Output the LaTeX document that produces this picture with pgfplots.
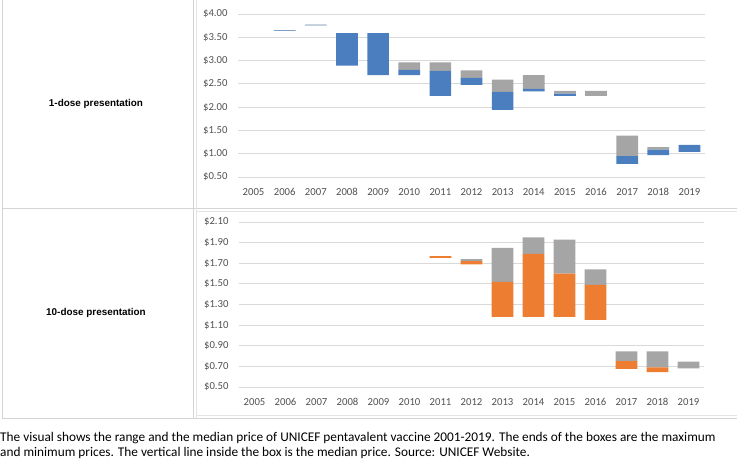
\documentclass[border=0pt]{standalone}
\usepackage{pgfplots}
\pgfplotsset{compat=1.18}
\usepackage{pgfplotstable}
\usepackage{fontspec}
\setmainfont{Carlito}
\newfontfamily\arialfont{Liberation Sans}
\definecolor{xblue}{HTML}{4A7EBE}
\definecolor{xorange}{HTML}{ED7D31}
\definecolor{xgray}{HTML}{A5A5A5}
\definecolor{gridc}{HTML}{D9D9D9}
\definecolor{tickc}{HTML}{505050}
\definecolor{tablec}{HTML}{D4D4D4}

% x index: 0 = 2005 ... 14 = 2019
\pgfplotstableread{
x min med max
1 3.635 3.648 3.656
2 3.755 3.766 3.773
3 2.89 3.59 3.59
4 2.69 3.59 3.59
5 2.69 2.80 2.96
6 2.24 2.78 2.96
7 2.48 2.63 2.79
8 1.94 2.33 2.59
9 2.34 2.39 2.69
10 2.24 2.29 2.35
11 2.24 2.24 2.35
12 0.78 0.95 1.39
13 0.97 1.09 1.14
14 1.04 1.19 1.19
}\onedose

\pgfplotstableread{
x min med max
6 1.752 1.768 1.768
7 1.69 1.72 1.74
8 1.18 1.52 1.85
9 1.18 1.79 1.95
10 1.18 1.60 1.93
11 1.15 1.49 1.64
12 0.675 0.75 0.845
13 0.645 0.69 0.845
14 0.68 0.68 0.745
}\tendose

\pgfplotsset{
  pricechart/.style={
    scale only axis,
    ybar stacked,
    bar width=21.7pt,
    xmin=-0.5, xmax=14.5,
    xtick={0,...,14},
    xticklabels={2005,2006,2007,2008,2009,2010,2011,2012,2013,2014,2015,2016,2017,2018,2019},
    axis line style={draw=none},
    major tick length=0pt,
    ymajorgrids,
    grid style={gridc, line width=0.8pt},
    tick label style={font=\fontsize{10.7}{12}\selectfont, text=tickc},
    /pgf/number format/assume math mode=true,
    yticklabel={\$\pgfmathprintnumber[fixed,fixed zerofill,precision=2]{\tick}},
    yticklabel style={xshift=-7pt},
    xticklabel style={yshift=-8pt},
    clip=true,
  },
}

\begin{document}
\begin{tikzpicture}
\useasboundingbox (0pt,0pt) rectangle (738pt,459pt);
% table lines
\draw[tablec, line width=0.8pt] (2pt,459pt) -- (2pt,41pt) -- (737pt,41pt);
\draw[tablec, line width=0.8pt] (193.5pt,459pt) -- (193.5pt,41pt);
\draw[tablec, line width=0.8pt] (2pt,250.5pt) -- (737pt,250.5pt);
\draw[gridc!70, line width=0.6pt] (196.5pt,459pt) -- (196.5pt,41pt);
\draw[gridc!70, line width=0.6pt] (196.5pt,247.5pt) -- (737pt,247.5pt);
\draw[gridc!70, line width=0.6pt] (196.5pt,44pt) -- (737pt,44pt);

\node[font=\arialfont\bfseries\fontsize{9.9}{12}\selectfont] at (96pt,355pt) {1-dose presentation};
\node[font=\arialfont\bfseries\fontsize{9.9}{12}\selectfont] at (96pt,146pt) {10-dose presentation};

\begin{axis}[pricechart,
  at={(238pt,282pt)}, anchor=south west,
  width=467pt, height=163pt,
  ymin=0.5, ymax=4.0,
  ytick={0.5,1,1.5,2,2.5,3,3.5,4},
]
\addplot[draw=none, fill=none] table[x=x, y=min] {\onedose};
\addplot[draw=none, fill=xblue] table[x=x, y expr=\thisrow{med}-\thisrow{min}] {\onedose};
\addplot[draw=none, fill=xgray] table[x=x, y expr=\thisrow{max}-\thisrow{med}] {\onedose};
\end{axis}

\begin{axis}[pricechart,
  at={(239pt,72pt)}, anchor=south west,
  width=465pt, height=165pt,
  ymin=0.5, ymax=2.1,
  ytick={0.5,0.7,0.9,1.1,1.3,1.5,1.7,1.9,2.1},
]
\addplot[draw=none, fill=none] table[x=x, y=min] {\tendose};
\addplot[draw=none, fill=xorange] table[x=x, y expr=\thisrow{med}-\thisrow{min}] {\tendose};
\addplot[draw=none, fill=xgray] table[x=x, y expr=\thisrow{max}-\thisrow{med}] {\tendose};
\end{axis}

\node[anchor=base west, inner sep=0pt, font=\fontsize{13.3}{15}\selectfont] at (0pt,18pt) {The visual shows the range and the median price of UNICEF pentavalent vaccine 2001-2019. The ends of the boxes are the maximum};
\node[anchor=base west, inner sep=0pt, font=\fontsize{13.3}{15}\selectfont] at (0pt,3pt) {and minimum prices. The vertical line inside the box is the median price. Source: UNICEF Website.};
\end{tikzpicture}
\end{document}
